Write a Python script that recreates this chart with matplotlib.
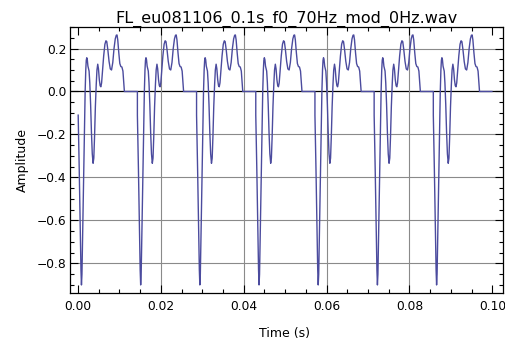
import numpy as np
import matplotlib
matplotlib.use("Agg")
import matplotlib.pyplot as plt
from matplotlib.ticker import MultipleLocator

# ---- data ----
title = "FL_eu081106_0.1s_f0_70Hz_mod_0Hz.wav"
# onset time (s) of each glottal pulse
pulse_onsets = [0.00005, 0.01434, 0.02862, 0.04291, 0.05719, 0.07148, 0.08576]
# one pulse shape: time after onset (ms) and amplitude
pulse_ms = [0.00, 0.25, 0.50, 0.67, 0.79, 0.91, 1.05, 1.25, 1.45, 1.68, 1.83, 1.95,
            2.07, 2.20, 2.35, 2.50, 2.63, 2.80, 3.00, 3.20, 3.40, 3.60, 3.77, 3.95,
            4.15, 4.35, 4.53, 4.72, 4.90, 5.10, 5.30, 5.47, 5.65, 5.90, 6.15, 6.45,
            6.70, 6.90, 7.15, 7.45, 7.75, 8.05, 8.35, 8.65, 8.95, 9.20, 9.37, 9.55,
            9.80, 10.05, 10.30, 10.55, 10.80, 11.00, 11.15]
pulse_amp = [-0.11, -0.36, -0.64, -0.83, -0.90, -0.85, -0.69, -0.44, -0.21, 0.00, 0.10, 0.145,
             0.157, 0.148, 0.118, 0.105, 0.095, 0.04, -0.06, -0.19, -0.29, -0.334, -0.31, -0.21,
             -0.07, 0.03, 0.10, 0.127, 0.105, 0.055, 0.027, 0.022, 0.04, 0.10, 0.165, 0.22,
             0.236, 0.232, 0.195, 0.14, 0.105, 0.10, 0.135, 0.20, 0.245, 0.262, 0.263, 0.24,
             0.18, 0.13, 0.116, 0.114, 0.095, 0.04, 0.0]
signal_end = 0.0999

xticks = [0.00, 0.02, 0.04, 0.06, 0.08, 0.10]
yticks = [-0.8, -0.6, -0.4, -0.2, 0.0, 0.2]

# ---- build the waveform from the read values ----
t_list, a_list = [], []
for k, t0 in enumerate(pulse_onsets):
    if k > 0:
        t_list.append(t0)
        a_list.append(0.0)
    t_list.extend(t0 + np.array(pulse_ms) / 1000.0)
    a_list.extend(pulse_amp)
t_list.append(signal_end)
a_list.append(0.0)

plt.rcParams['font.family'] = ['DejaVu Sans']
fig = plt.figure(figsize=(5.05, 3.41), dpi=100)
ax = fig.add_axes([0.138, 0.1417, 0.8574, 0.7791])

# grid lines
for y in yticks:
    if y == 0.0:
        ax.axhline(y, color='black', lw=0.9, zorder=1)
    else:
        ax.axhline(y, color='#8a8a8a', lw=0.8, zorder=1)
for x in xticks[1:-1]:
    ax.axvline(x, color='#8a8a8a', lw=0.8, zorder=1)

ax.plot(t_list, a_list, color='#4B4B9E', lw=1.0, zorder=3)

ax.set_xlim(-0.002, 0.1025)
ax.set_ylim(-0.936, 0.30)
ax.set_xticks(xticks)
ax.set_xticklabels([f"{v:.2f}" for v in xticks])
ax.set_yticks(yticks)
ax.set_yticklabels([f"{v:.1f}".replace('-', '\u2212') for v in yticks])
ax.xaxis.set_minor_locator(MultipleLocator(0.005))
ax.yaxis.set_minor_locator(MultipleLocator(0.05))
ax.tick_params(which='both', direction='in', top=True, right=True, width=0.8, colors='black')
ax.tick_params(which='major', length=6, labelsize=8.8)
ax.tick_params(axis='x', which='major', pad=5)
ax.tick_params(axis='y', which='major', pad=2.5)
ax.tick_params(which='minor', length=3.2)
for s in ax.spines.values():
    s.set_linewidth(0.9)

ax.set_title(title, fontsize=11.5, pad=2)
ax.set_xlabel("Time (s)", fontsize=9)
ax.set_ylabel("Amplitude", fontsize=9)
ax.xaxis.set_label_coords(0.497, -0.128)
ax.yaxis.set_label_coords(-0.095, 0.5)

fig.savefig("out.png", dpi=100)
